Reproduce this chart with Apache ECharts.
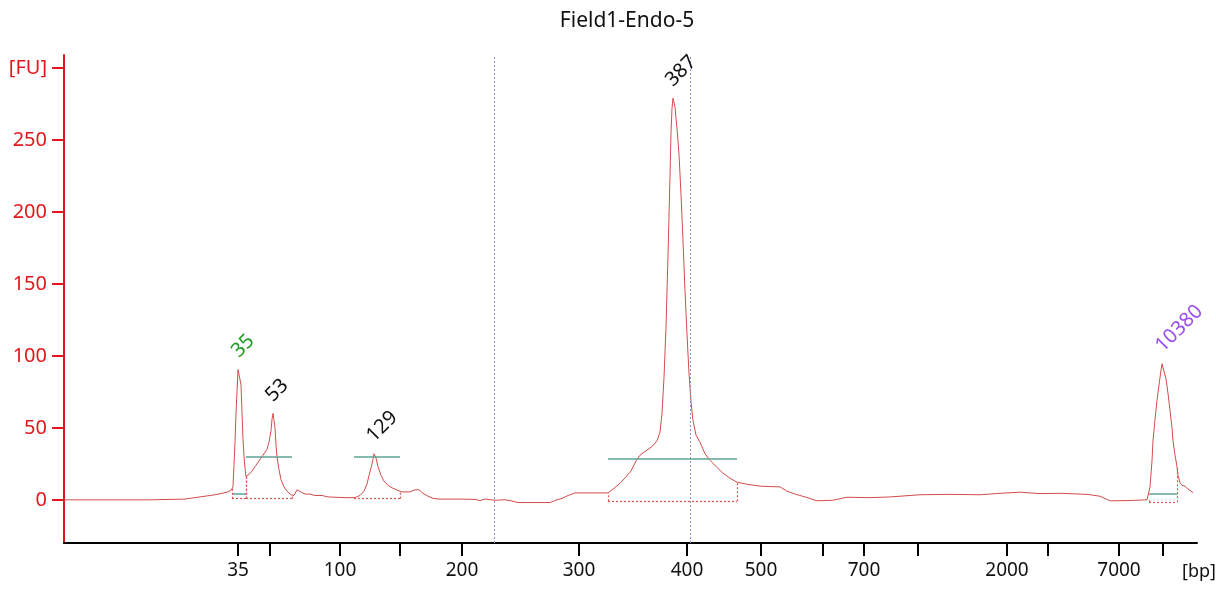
<!DOCTYPE html>
<html><head><meta charset="utf-8">
<script src="https://cdn.jsdelivr.net/npm/echarts@6/dist/echarts.min.js"></script>
<style>html,body{margin:0;padding:0;background:#fff}#c{width:1216px;height:592px}</style>
</head><body><div id="c"></div>
<script>
const chartTitle = 'Field1-Endo-5';
// migration time (arbitrary units) and fluorescence [FU]
const traceTime = [0,86,121,131,141,151,158,164,167,169,171,172,173,174,176,177,178,179,180,181,182,184,187,191,195,199,203,205,207,208,209,210,211,212,213,215,217,220,223,227,230,233,235,238,241,246,251,258,264,281,291,296,300,303,305,307,309,310,311,312,314,317,320,324,329,334,338,346,351,355,359,364,369,376,396,411,416,421,431,441,446,454,486,491,498,504,511,544,550,556,562,567,572,576,583,588,593,596,598,600,602,604,606,607,608,609,610,611,612,613,615,617,619,621,623,625,627,629,632,636,641,646,653,659,666,673,683,696,706,716,723,731,741,753,769,783,806,826,856,886,916,936,956,976,996,1023,1036,1046,1066,1083,1085,1086,1088,1089,1091,1093,1096,1098,1100,1102,1104,1106,1108,1109,1111,1113,1114,1116,1118,1121,1123,1125,1127,1129];
const traceFU = [0,0,0.5,1.5,2.5,3.5,4.5,5.5,6.5,9,40,60,75,90.5,90.8,80,60,42,30,22,16,17,19,23,27,31,35,40,48,56,60,59,50,38,30,21,14,9,6,3.5,3,7,7.5,5,4,4,3,3,2,1.5,1.5,3,6,11,17,22,28,32,32,29,23,17,13,10,8,6.5,5.5,5.5,7,7,4.5,2.5,1,0.5,0.5,0.3,-0.5,0.5,-0.3,0,-0.5,-1.9,-1.9,-0.5,1,3,4.8,4.8,8,11.5,16,20,27,31,34.5,37,41,47,60,85,120,170,225,255,272,279,278,273,265,258,240,212,180,145,115,88,68,55,45,40,32,27.5,22.5,18.5,15,12.2,10.8,9.5,9.2,9,6,4,2,-0.7,-0.3,1.8,1.5,2,3.5,3.8,3.5,4.5,5.3,4.3,4.5,3.8,2.5,-0.7,-0.5,0,1,9,27,41,56,69,85,94.5,94.5,84,74,62,50,41,31,23,17,12,10,9.5,8,9,6,5];
// ladder
const ladderSizes = [35,50,100,150,200,300,400,500,600,700,1000,2000,3000,7000,10380];
const ladderTime = [174,206,276,336,398,515,623,697,759,800,854,943,984,1055,1099];
const ladderShown = [35,100,200,300,400,500,700,2000,7000];
const yTicks = [0,50,100,150,200,250,300];
// peaks
const peakLabels = ['35','53','129','387','10380'];
const peakTime = [175,209,310,609,1099];
const peakFU = [90.8,60,32,279,94.5];
const peakColors = ['#1f9a1f','#111111','#111111','#111111','#9b4cf2'];
// integration regions
const regionStart = [168,182,290,544,1085];
const regionEnd = [182,228,336,673,1113];
const regionBase = [0.8,0.8,0.8,-1,-1.7];
const regionLevel = [3.9,30,30,28.8,3.9];
const markerTime = [430,626];

function interp(t){
  for(let i=1;i<traceTime.length;i++){
    if(traceTime[i]>=t){
      const t0=traceTime[i-1],t1=traceTime[i];
      const f=(t-t0)/(t1-t0);
      return traceFU[i-1]+f*(traceFU[i]-traceFU[i-1]);
    }
  }
  return traceFU[traceFU.length-1];
}

const font = 'Noto Sans';
const marks = [];
regionStart.forEach((s,i)=>{
  const e = regionEnd[i];
  marks.push([{coord:[s,regionLevel[i]],lineStyle:{color:'#5fa393',width:1.5,type:'solid'}},{coord:[e,regionLevel[i]]}]);
  const red = {color:'#e05555',width:1.2,type:[2,2]};
  marks.push([{coord:[s,regionBase[i]],lineStyle:red},{coord:[e,regionBase[i]]}]);
  marks.push([{coord:[s,regionBase[i]],lineStyle:red},{coord:[s,interp(s)]}]);
  marks.push([{coord:[e,regionBase[i]],lineStyle:red},{coord:[e,interp(e)]}]);
});
markerTime.forEach(t=>{
  marks.push({xAxis:t,lineStyle:{color:'#8a8ad0',width:1,type:[2,2]}});
});

const shownTimes = ladderShown.map(s=>ladderTime[ladderSizes.indexOf(s)]);

const chart = echarts.init(document.getElementById('c'));
chart.setOption({
  animation:false,
  backgroundColor:'#ffffff',
  title:{text:chartTitle,left:622,textAlign:'center',top:6,
    textStyle:{fontFamily:font,fontSize:21,fontWeight:'normal',color:'#111'}},
  grid:{left:64,right:19,top:55,bottom:49,containLabel:false,outerBoundsMode:'none'},
  xAxis:{type:'value',min:0,max:1133,
    name:'[bp]',nameLocation:'end',nameGap:-15,
    nameTextStyle:{fontFamily:font,fontSize:18,color:'#111',verticalAlign:'top',padding:[20,0,0,0]},
    splitLine:{show:false},
    axisLine:{show:true,onZero:false,lineStyle:{color:'#000',width:2}},
    axisTick:{show:true,customValues:ladderTime,length:13,lineStyle:{color:'#000',width:2}},
    axisLabel:{customValues:shownTimes,margin:18,fontFamily:font,fontSize:19,color:'#111',
      formatter:v=>{const i=ladderTime.indexOf(v);return i>=0?String(ladderSizes[i]):'';}}
  },
  yAxis:{type:'value',min:-30,max:309,
    splitLine:{show:false},
    axisLine:{show:true,lineStyle:{color:'#e3161c',width:2}},
    axisTick:{show:true,customValues:yTicks,length:12,lineStyle:{color:'#e3161c',width:2}},
    axisLabel:{customValues:yTicks,margin:17,fontFamily:font,fontSize:20,color:'#e3161c',
      formatter:v=>v===300?'[FU]':String(v)}
  },
  series:[
    {type:'line',data:traceTime.map((t,i)=>[t,traceFU[i]]),showSymbol:false,symbol:'none',
      lineStyle:{color:'#d24c4c',width:1},z:3,
      markLine:{silent:true,symbol:['none','none'],label:{show:false},data:marks}},
    {type:'scatter',symbolSize:2,itemStyle:{color:'rgba(255,255,255,0)'},z:5,clip:false,
      data:peakTime.map((t,i)=>({value:[t,peakFU[i]],name:peakLabels[i],label:{color:peakColors[i]}})),
      label:{show:true,formatter:'{b}',rotate:45,position:[-3,-14],align:'left',verticalAlign:'middle',
        fontFamily:font,fontSize:20,opacity:1,textBorderWidth:0}}
  ]
});
</script></body></html>
